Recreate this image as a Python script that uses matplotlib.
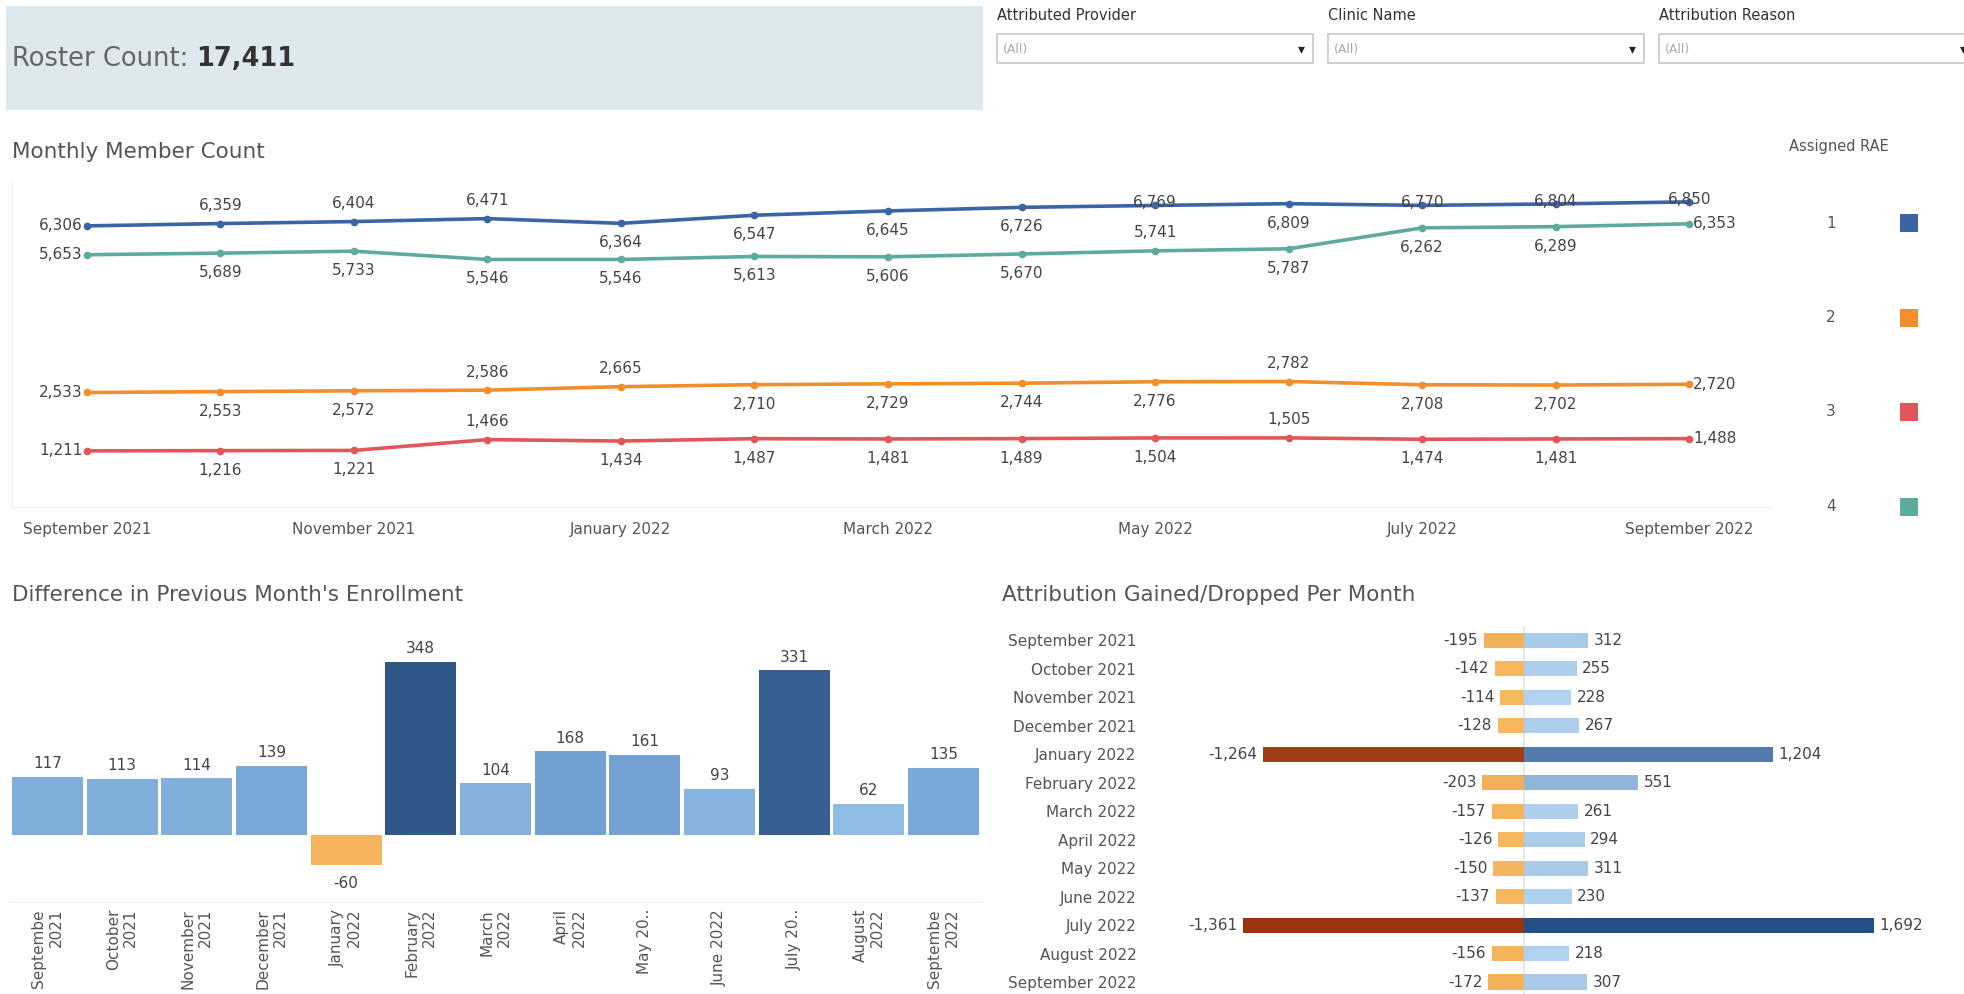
import numpy as np
import matplotlib.pyplot as plt
from matplotlib.patches import Rectangle
from matplotlib.colors import LinearSegmentedColormap

# ---- data ----
months = ['September 2021', 'October 2021', 'November 2021', 'December 2021',
          'January 2022', 'February 2022', 'March 2022', 'April 2022', 'May 2022',
          'June 2022', 'July 2022', 'August 2022', 'September 2022']

rae_names = ['1', '2', '3', '4']
rae1 = [6306, 6359, 6404, 6471, 6364, 6547, 6645, 6726, 6769, 6809, 6770, 6804, 6850]
rae2 = [2533, 2553, 2572, 2586, 2665, 2710, 2729, 2744, 2776, 2782, 2708, 2702, 2720]
rae3 = [1211, 1216, 1221, 1466, 1434, 1487, 1481, 1489, 1504, 1505, 1474, 1481, 1488]
rae4 = [5653, 5689, 5733, 5546, 5546, 5613, 5606, 5670, 5741, 5787, 6262, 6289, 6353]

diff_values = [117, 113, 114, 139, -60, 348, 104, 168, 161, 93, 331, 62, 135]
diff_labels = ['Septembe\n2021', 'October\n2021', 'November\n2021', 'December\n2021',
               'January\n2022', 'February\n2022', 'March\n2022', 'April\n2022',
               'May 20..', 'June 2022', 'July 20..', 'August\n2022', 'Septembe\n2022']

gained = [312, 255, 228, 267, 1204, 551, 261, 294, 311, 230, 1692, 218, 307]
dropped = [-195, -142, -114, -128, -1264, -203, -157, -126, -150, -137, -1361, -156, -172]

roster_count = 17411
filters = ['Attributed Provider', 'Clinic Name', 'Attribution Reason']

# ---- style ----
plt.rcParams['font.family'] = ['DejaVu Sans']
TXT = '#555555'
line_colors = ['#3b64a4', '#f28e2b', '#e15759', '#5dab9e']
# where each point label sits relative to its marker
places = {
    '1': ['left', 'above', 'above', 'above', 'below', 'below', 'below', 'below',
          'on', 'below', 'on', 'on', 'on'],
    '2': ['left', 'below', 'below', 'above', 'above', 'below', 'below', 'below',
          'below', 'above', 'below', 'below', 'right'],
    '3': ['left', 'below', 'below', 'above', 'below', 'below', 'below', 'below',
          'below', 'above', 'below', 'below', 'right'],
    '4': ['left', 'below', 'below', 'below', 'below', 'below', 'below', 'below',
          'above', 'below', 'below', 'below', 'right'],
}
offsets = {'above': (0, 13, 'center', 'center'), 'below': (0, -14, 'center', 'center'),
           'left': (-3, 0, 'right', 'center'), 'right': (3, 0, 'left', 'center'),
           'on': (0, 2, 'center', 'center')}

W, H = 1964, 994
fig = plt.figure(figsize=(W / 100, H / 100), dpi=100)

# background axes in pixel coordinates for the header, titles and legend
bg = fig.add_axes([0, 0, 1, 1])
bg.set_xlim(0, W)
bg.set_ylim(H, 0)
bg.axis('off')

bg.add_patch(Rectangle((6, 6), 977, 104, facecolor='#dde8ef', edgecolor='none'))
t1 = bg.text(12, 59, 'Roster Count: ', fontsize=18.5, color='#666666', va='center')
bg.annotate(f'{roster_count:,}', xy=(1, 0.5), xycoords=t1, va='center', ha='left',
            fontsize=18.5, fontweight='bold', color='#333333')

for i, name in enumerate(filters):
    x0 = 997 + i * 331
    bg.text(x0, 16, name, fontsize=10.5, color='#333333', va='center')
    bg.add_patch(Rectangle((x0, 34), 316, 29, facecolor='white', edgecolor='#cccccc', lw=1.3))
    bg.text(x0 + 6, 49, '(All)', fontsize=9, color='#aaaaaa', va='center')
    bg.text(x0 + 308, 49, '\u25be', fontsize=10, color='#222222', va='center', ha='right')

bg.text(12, 152, 'Monthly Member Count', fontsize=15.5, color=TXT, va='center')
bg.text(12, 595, "Difference in Previous Month's Enrollment", fontsize=15.5, color=TXT, va='center')
bg.text(1002, 595, 'Attribution Gained/Dropped Per Month', fontsize=15.5, color=TXT, va='center')

bg.text(1789, 147, 'Assigned RAE', fontsize=10.5, color=TXT, va='center')
for i, name in enumerate(rae_names):
    yy = 223 + i * 94.5
    bg.text(1831, yy, name, fontsize=11, color=TXT, va='center', ha='center')
    bg.add_patch(Rectangle((1900, yy - 9), 18, 18, facecolor=line_colors[i], edgecolor='none'))

# ---- Monthly Member Count ----
ax1 = fig.add_axes([12 / W, 1 - 507 / H, 1760 / W, 325 / H])
x = np.arange(len(months))
for name, vals, color in zip(rae_names, [rae1, rae2, rae3, rae4], line_colors):
    ax1.plot(x, vals, color=color, lw=2.6, marker='o', ms=4.5, solid_capstyle='round')
    for xi, v, p in zip(x, vals, places[name]):
        dx, dy, ha, va = offsets[p]
        ax1.annotate(f'{v:,}', (xi, v), xytext=(dx, dy), textcoords='offset points',
                     ha=ha, va=va, fontsize=11, color='#444444')
ax1.set_xlim(-0.56, 12.62)
ax1.set_ylim(-60, 7300)
ax1.set_xticks(x[::2])
ax1.set_xticklabels(months[::2], fontsize=11, color=TXT)
ax1.set_yticks([])
ax1.tick_params(axis='x', length=0, pad=11)
for s in ['top', 'right']:
    ax1.spines[s].set_visible(False)
for s in ['left', 'bottom']:
    ax1.spines[s].set_color('#f0f0f0')

# ---- Difference in Previous Month's Enrollment ----
ax2 = fig.add_axes([10 / W, 1 - 902 / H, 971 / W, 282 / H])
blues = LinearSegmentedColormap.from_list('blues', ['#a2cdef', '#6f9fd0', '#2f5889'])
bar_colors = [blues(v / max(diff_values)) if v >= 0 else '#f5b35c' for v in diff_values]
ax2.bar(x, diff_values, width=0.95, color=bar_colors)
for xi, v in zip(x, diff_values):
    ax2.annotate(f'{v:,}', (xi, v), xytext=(0, 4 if v >= 0 else -8), textcoords='offset points',
                 ha='center', va='bottom' if v >= 0 else 'top', fontsize=11, color='#444444')
ax2.set_xlim(-0.5, 12.5)
ax2.set_ylim(-135, 432)
ax2.set_xticks(x)
ax2.set_xticklabels(diff_labels, rotation=90, ha='center', va='top',
                    multialignment='right', fontsize=11, color=TXT)
ax2.set_yticks([])
ax2.tick_params(axis='x', length=0, pad=5)
for s in ['top', 'right', 'left']:
    ax2.spines[s].set_visible(False)
ax2.spines['bottom'].set_color('#f0f0f0')

# ---- Attribution Gained/Dropped Per Month ----
ax3 = fig.add_axes([1146 / W, 0, (W - 1146) / W, 368 / H])
gain_cmap = LinearSegmentedColormap.from_list('gain', ['#b3d4f0', '#24508a'])
drop_cmap = LinearSegmentedColormap.from_list('drop', ['#f7b95f', '#9a3410'])
g_colors = [gain_cmap((v - 200) / (1692 - 200)) for v in gained]
d_colors = [drop_cmap((abs(v) - 110) / (1361 - 110)) for v in dropped]
ax3.axvline(0, color='#e3e3e3', lw=1.2, zorder=0)
ax3.barh(x, gained, height=0.53, color=g_colors)
ax3.barh(x, dropped, height=0.53, color=d_colors)
for yi, g, d in zip(x, gained, dropped):
    ax3.annotate(f'{g:,}', (g, yi), xytext=(4, 0), textcoords='offset points',
                 ha='left', va='center', fontsize=11, color='#444444')
    ax3.annotate(f'{d:,}', (d, yi), xytext=(-4, 0), textcoords='offset points',
                 ha='right', va='center', fontsize=11, color='#444444')
ax3.set_xlim(-1829, 2129)
ax3.set_ylim(12.42, -0.5)
ax3.set_yticks(x)
ax3.set_yticklabels(months, fontsize=11, color=TXT)
ax3.set_xticks([])
ax3.tick_params(axis='y', length=0, pad=7)
for s in ax3.spines.values():
    s.set_visible(False)

fig.savefig('out.png', dpi=100, facecolor='white')
